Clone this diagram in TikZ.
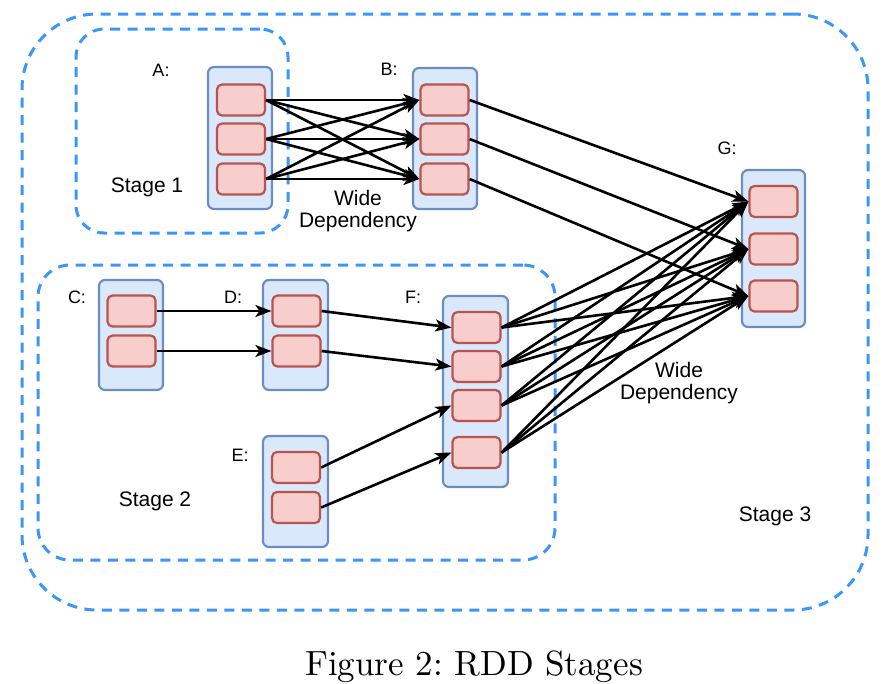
\documentclass[tikz,border=0pt]{standalone}
\usepackage{fontspec}
\newfontfamily\lab{Liberation Sans}
\newfontfamily\capfont{lmroman10-regular.otf}
\usetikzlibrary{arrows.meta}
\definecolor{stageblue}{RGB}{60,150,250}
\definecolor{rddfill}{HTML}{DAE8FC}
\definecolor{rdddraw}{HTML}{6C8EBF}
\definecolor{partfill}{HTML}{F8CECC}
\definecolor{partdraw}{HTML}{B85450}
\tikzset{
  stagebox/.style={draw=stageblue, line width=3pt, dash pattern=on 10pt off 7.5pt, inner sep=0pt},
  rdd/.style={draw=rdddraw, fill=rddfill, line width=2.2pt, rounded corners=6pt, inner sep=0pt},
  part/.style={draw=partdraw, fill=partfill, line width=2.2pt, rounded corners=5pt, inner sep=0pt, minimum width=48pt, minimum height=31pt},
  arr/.style={draw=black, line width=2.6pt, -{Stealth[length=16pt,width=12pt,inset=4pt]}},
  rddlabel/.style={font=\lab\fontsize{18}{20}\selectfont, inner sep=0pt},
  stagelabel/.style={font=\lab\fontsize{21}{24}\selectfont, inner sep=0pt},
  deplabel/.style={font=\lab\fontsize{21}{22}\selectfont, align=center, inner sep=0pt}
}
\begin{document}
\begin{tikzpicture}[x=1pt,y=-1pt]
\useasboundingbox (0,0) rectangle (890,683);
% stages
\node[stagebox, rounded corners=75pt, minimum width=846pt, minimum height=596pt] (stage3) at (445,312) {};
\node[stagebox, rounded corners=28pt, minimum width=212pt, minimum height=204pt] (stage1) at (182,131) {};
\node[stagebox, rounded corners=32pt, minimum width=517pt, minimum height=295pt] (stage2) at (296.5,412.5) {};
% RDD containers
\node[rdd, minimum width=64pt, minimum height=142pt] (A) at (240,138) {};
\node[rdd, minimum width=64pt, minimum height=141pt] (B) at (445,138.5) {};
\node[rdd, minimum width=64pt, minimum height=110pt] (C) at (131,335) {};
\node[rdd, minimum width=65pt, minimum height=110pt] (D) at (295.5,335) {};
\node[rdd, minimum width=65pt, minimum height=111pt] (E) at (295.5,491.5) {};
\node[rdd, minimum width=65pt, minimum height=191pt] (F) at (475.5,391.5) {};
\node[rdd, minimum width=63pt, minimum height=157pt] (G) at (773.5,248.5) {};
% partitions
\node[part] (a1) at (241,100) {};
\node[part] (a2) at (241,139) {};
\node[part] (a3) at (241,179) {};
\node[part] (b1) at (444.5,100) {};
\node[part] (b2) at (444.5,139) {};
\node[part] (b3) at (444.5,179) {};
\node[part] (c1) at (131.5,311) {};
\node[part] (c2) at (131.5,351) {};
\node[part] (d1) at (296.5,311) {};
\node[part] (d2) at (296.5,351) {};
\node[part] (e1) at (296,467.5) {};
\node[part] (e2) at (296,507.5) {};
\node[part] (f1) at (476.5,327.5) {};
\node[part] (f2) at (476.5,366.5) {};
\node[part] (f3) at (476.5,405.5) {};
\node[part] (f4) at (476.5,452.5) {};
\node[part] (g1) at (773.5,201.5) {};
\node[part] (g2) at (773.5,249) {};
\node[part] (g3) at (773.5,296) {};
% labels
\node[rddlabel] (lA) at (161,70) {A:};
\node[rddlabel] (lB) at (389,69) {B:};
\node[rddlabel] (lC) at (77,297) {C:};
\node[rddlabel] (lD) at (233,297) {D:};
\node[rddlabel] (lE) at (240,455) {E:};
\node[rddlabel] (lF) at (413,297) {F:};
\node[rddlabel] (lG) at (727,148) {G:};
\node[stagelabel] (s1) at (147,187) {Stage 1};
\node[stagelabel] (s2) at (155,501) {Stage 2};
\node[stagelabel] (s3) at (775,516) {Stage 3};
% arrows
\foreach \i in {1,2,3}{
  \foreach \j in {1,2,3}{
    \draw[arr] (a\i.east) -- (b\j.west);
  }
  \draw[arr] (b\i.east) -- (g\i.west);
}
\draw[arr] (c1.east) -- (d1.west);
\draw[arr] (c2.east) -- (d2.west);
\draw[arr] (d1.east) -- (f1.west);
\draw[arr] (d2.east) -- (f2.west);
\draw[arr] (e1.east) -- (f3.west);
\draw[arr] (e2.east) -- (f4.west);
\foreach \i in {1,2,3,4}{
  \foreach \j in {1,2,3}{
    \draw[arr] (f\i.east) -- (g\j.west);
  }
}
\node[deplabel] (w1) at (358,211) {Wide\\Dependency};
\node[deplabel] (w2) at (679,383) {Wide\\Dependency};
% caption
\node[font=\capfont\fontsize{35}{40}\selectfont, inner sep=0pt, anchor=base] (cap) at (474,675) {Figure 2:\ RDD Stages};
\end{tikzpicture}
\end{document}
